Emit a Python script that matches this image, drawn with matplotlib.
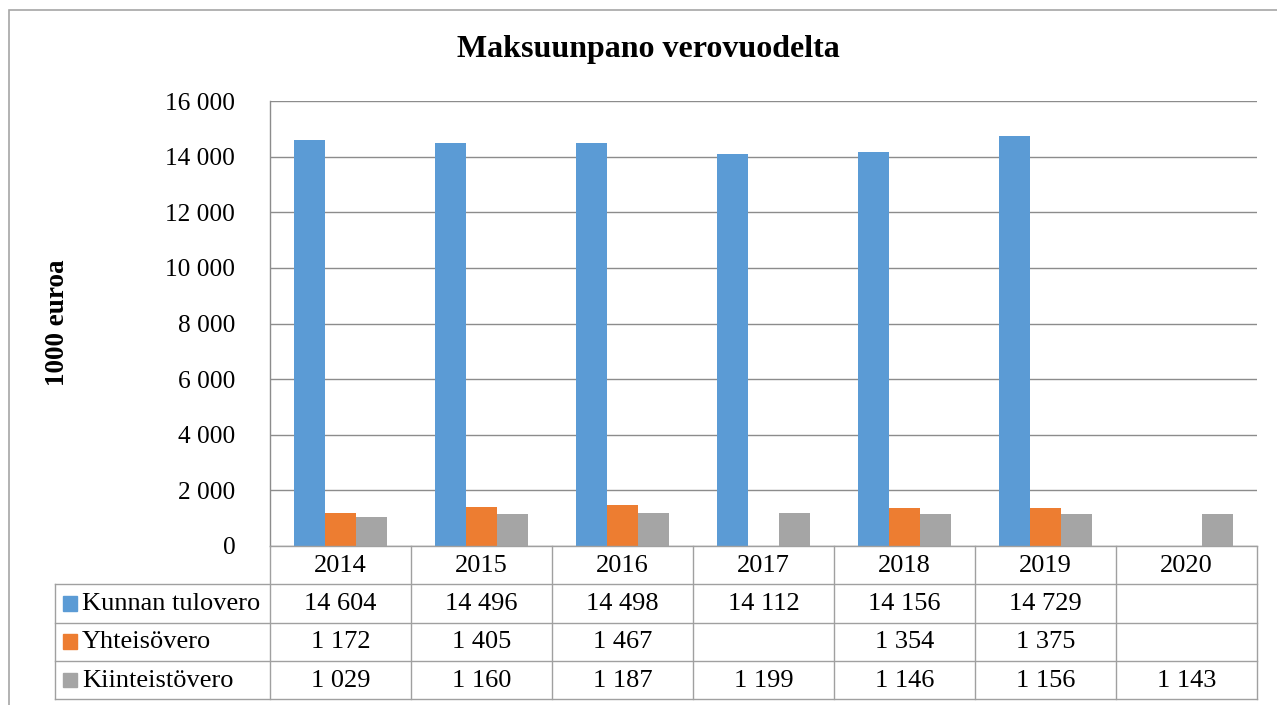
import matplotlib
matplotlib.use("Agg")
import matplotlib.pyplot as plt
import numpy as np
from matplotlib.patches import Rectangle
from matplotlib.lines import Line2D

years = ["2014", "2015", "2016", "2017", "2018", "2019", "2020"]
series_names = ["Kunnan tulovero", "Yhteisövero", "Kiinteistövero"]
kunnan_tulovero = [14604, 14496, 14498, 14112, 14156, 14729, None]
yhteisovero = [1172, 1405, 1467, None, 1354, 1375, None]
kiinteistovero = [1029, 1160, 1187, 1199, 1146, 1156, 1143]
colors = ["#5B9BD5", "#ED7D31", "#A5A5A5"]
yticks = [0, 2000, 4000, 6000, 8000, 10000, 12000, 14000, 16000]

series = [kunnan_tulovero, yhteisovero, kiinteistovero]

plt.rcParams['font.family'] = ['Liberation Serif', 'DejaVu Serif']

W, H = 1277, 705
fig = plt.figure(figsize=(W / 100, H / 100), dpi=100)

def fx(px):
    return px / W

def fy(py):
    return 1 - py / H

# outer chart border
fig.add_artist(Rectangle((fx(9), fy(760)), fx(1400), fy(10) - fy(760), fill=False,
                         edgecolor="#a6a6a6", linewidth=1.2, transform=fig.transFigure,
                         clip_on=False))

L, R, T, B = 270, 1257, 101, 546
ax = fig.add_axes([fx(L), fy(B), fx(R - L), fy(T) - fy(B)])
n = len(years)
x = np.arange(n)
bw = 0.22
for i, (vals, c) in enumerate(zip(series, colors)):
    xs = [xi + (i - 1) * bw for xi, v in zip(x, vals) if v is not None]
    vs = [v for v in vals if v is not None]
    ax.bar(xs, vs, width=bw, color=c, zorder=3)

ax.set_xlim(-0.5, n - 0.5)
ax.set_ylim(0, 16000)
ax.set_yticks(yticks)
ax.set_yticklabels([f"{v:,}".replace(",", " ") for v in yticks], fontsize=18.3)
ax.tick_params(axis="y", length=0, pad=25)
ax.set_xticks([])
ax.grid(axis="y", color="#8c8c8c", linewidth=1.0, zorder=0)
for s in ["top", "right", "bottom"]:
    ax.spines[s].set_visible(False)
ax.spines["left"].set_color("#8c8c8c")
ax.spines["left"].set_linewidth(1.0)

fig.text(fx(648), fy(50), "Maksuunpano verovuodelta", ha="center", va="center",
         fontsize=23, fontweight="bold")
fig.text(fx(58), fy(323), "1000 euroa", ha="center", va="center", rotation=90,
         fontsize=19.5, fontweight="bold")

# data table
TL, TB = 55, 699
unit = (R - L) / n
tax = fig.add_axes([fx(TL), fy(TB), fx(R - TL), fy(B) - fy(TB)])
left_ext = -0.5 - (L - TL) / unit
tax.set_xlim(left_ext, n - 0.5)
tax.set_ylim(4, 0)
tax.axis("off")
lc = "#a0a0a0"
lw = 1.0
# horizontal lines
for yy in [1, 2, 3, 4]:
    tax.add_line(Line2D([left_ext, n - 0.5], [yy, yy], color=lc, lw=lw, clip_on=False))
tax.add_line(Line2D([-0.5, n - 0.5], [0, 0], color=lc, lw=lw, clip_on=False))
# vertical lines
tax.add_line(Line2D([left_ext, left_ext], [1, 4], color=lc, lw=lw, clip_on=False))
for k in range(n + 1):
    tax.add_line(Line2D([k - 0.5, k - 0.5], [0, 4], color=lc, lw=lw, clip_on=False))

fs = 19
for k, yr in enumerate(years):
    tax.text(k, 0.52, yr, ha="center", va="center", fontsize=fs)
for r, (name, vals, c) in enumerate(zip(series_names, series, colors)):
    yy = r + 1.5
    sq = 14 / unit
    tax.add_patch(Rectangle((left_ext + 8 / unit, yy - 0.19), sq, 0.38, color=c,
                            clip_on=False))
    tax.text(left_ext + 27 / unit, yy + 0.02, name, ha="left", va="center", fontsize=fs)
    for k, v in enumerate(vals):
        if v is not None:
            tax.text(k, yy + 0.02, f"{v:,}".replace(",", " "), ha="center", va="center",
                     fontsize=fs)

fig.savefig("out.png", dpi=100)
